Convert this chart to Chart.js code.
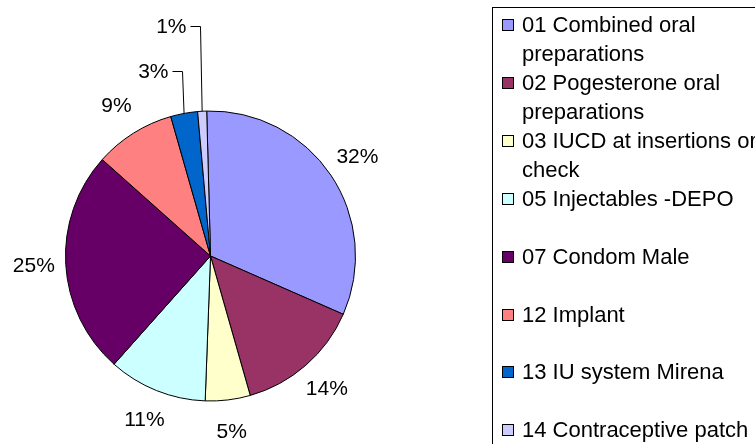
<!DOCTYPE html>
<html>
<head>
<meta charset="utf-8">
<script src="https://cdn.jsdelivr.net/npm/chart.js@4/dist/chart.umd.min.js"></script>
<style>
  html, body { margin: 0; padding: 0; background: #fff; }
  canvas { display: block; }
</style>
</head>
<body>
<canvas id="methods" width="755" height="444"></canvas>
<script>
const methods = [
  '01 Combined oral preparations',
  '02 Pogesterone oral preparations',
  '03 IUCD at insertions or check',
  '05 Injectables -DEPO',
  '07 Condom Male',
  '12 Implant',
  '13 IU system Mirena',
  '14 Contraceptive patch'
];
const shares = [32, 14, 5, 11, 25, 9, 3, 1];

const sliceColors = ['#9999FF', '#993366', '#FFFFCC', '#CCFFFF', '#660066', '#FF8080', '#0066CC', '#CCCCFF'];
const FONT = "'Liberation Sans', Arial, sans-serif";

// split a legend entry into lines no wider than maxWidth
function wrapText(ctx, text, maxWidth) {
  const words = text.split(' ');
  const lines = [];
  let line = '';
  words.forEach(w => {
    const test = line ? line + ' ' + w : w;
    if (line && ctx.measureText(test).width > maxWidth) {
      lines.push(line);
      line = w;
    } else {
      line = test;
    }
  });
  if (line) lines.push(line);
  return lines;
}

// percent labels outside the pie; thin slices get a raised label with a leader line
const pieLabels = {
  id: 'pieLabels',
  afterDatasetsDraw(chart) {
    const ctx = chart.ctx;
    const meta = chart.getDatasetMeta(0);
    const data = chart.data.datasets[0].data;
    const total = data.reduce((a, b) => a + b, 0);
    let raised = 0;
    ctx.save();
    ctx.font = '21px ' + FONT;
    ctx.fillStyle = '#000';
    ctx.strokeStyle = '#000';
    ctx.lineWidth = 1;
    ctx.textBaseline = 'middle';
    meta.data.forEach((arc, i) => {
      const { x, y, startAngle, endAngle, outerRadius } =
        arc.getProps(['x', 'y', 'startAngle', 'endAngle', 'outerRadius'], true);
      const mid = (startAngle + endAngle) / 2;
      const text = Math.round(data[i] / total * 100) + '%';
      if (data[i] / total >= 0.04) {
        const d = outerRadius + 32;
        ctx.textAlign = 'center';
        ctx.fillText(text, x + Math.cos(mid) * d, y + Math.sin(mid) * d);
      } else {
        raised++;
        const ex = x + Math.cos(mid) * outerRadius;
        const ey = y + Math.sin(mid) * outerRadius;
        const cx = Math.round(ex - 2.5) + 0.5;
        const cy = Math.round(ey - 42.5 * raised) + 0.5;
        ctx.beginPath();
        ctx.moveTo(ex, ey);
        ctx.lineTo(cx, cy);
        ctx.lineTo(cx - 10, cy);
        ctx.stroke();
        ctx.textAlign = 'right';
        ctx.fillText(text, cx - 14, cy + 1);
      }
    });
    ctx.restore();
  }
};

// boxed legend on the right, running off the edge of the canvas
const boxLegend = {
  id: 'boxLegend',
  afterDraw(chart) {
    const ctx = chart.ctx;
    const colors = chart.data.datasets[0].backgroundColor;
    ctx.save();
    ctx.strokeStyle = '#000';
    ctx.lineWidth = 1;
    ctx.strokeRect(492.5, 7.5, 400, 500);
    ctx.font = '22px ' + FONT;
    ctx.textAlign = 'left';
    ctx.textBaseline = 'middle';
    chart.data.labels.forEach((label, i) => {
      const rowY = 25 + i * 57.9;
      const sy = Math.round(rowY - 6) + 0.5;
      ctx.fillStyle = colors[i];
      ctx.fillRect(502.5, sy, 11, 11);
      ctx.strokeRect(502.5, sy, 11, 11);
      ctx.fillStyle = '#000';
      wrapText(ctx, label, 240).forEach((line, k) => {
        ctx.fillText(line, 522, rowY + 1 + k * 29);
      });
    });
    ctx.restore();
  }
};

new Chart(document.getElementById('methods'), {
  type: 'pie',
  data: {
    labels: methods,
    datasets: [{
      data: shares,
      backgroundColor: sliceColors,
      borderColor: '#000',
      borderWidth: 1
    }]
  },
  options: {
    responsive: false,
    devicePixelRatio: 1,
    animation: false,
    rotation: -1.5,
    layout: { padding: { top: 110, bottom: 42, left: 65, right: 399 } },
    plugins: {
      legend: { display: false },
      tooltip: { enabled: false }
    }
  },
  plugins: [pieLabels, boxLegend]
});
</script>
</body>
</html>
